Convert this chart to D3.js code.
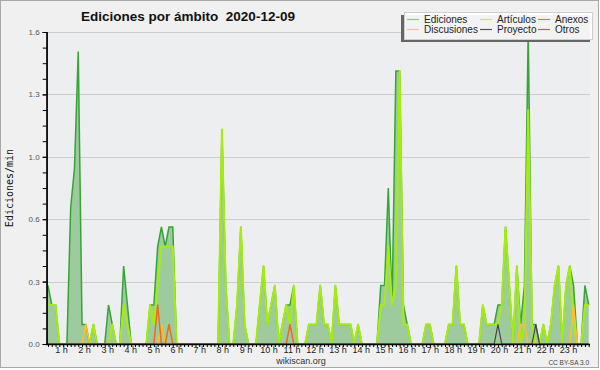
<!DOCTYPE html>
<html><head><meta charset="utf-8">
<script src="https://cdn.jsdelivr.net/npm/d3@7"></script>
<style>
body{margin:0;background:#fff}
svg{font-family:"Liberation Sans",Arial,sans-serif}
</style></head><body>
<svg id="chart" width="600" height="370"></svg>
<script>
// y axis labels (pChart style rounding of 0.32 steps)
var yTicks = [0, 0.32, 0.64, 0.96, 1.28, 1.6];
var yLabels = ["0.0", "0.3", "0.6", "1.0", "1.3", "1.6"];
var hours = d3.range(1, 24);

// edits per minute, one value per 10 minutes (144 per day)
var ediciones = [
  .3,.2,.2,0,0,0,.7,.9,1.5,.1,.1,0,
  .1,0,0,0,.2,.1,0,0,.4,.2,0,0,
  0,0,0,.2,.2,.5,.6,.5,.6,.6,0,0,
  0,0,0,0,0,0,0,0,0,0,1.1,.3,
  0,0,.2,.6,.1,0,0,0,.2,.4,.1,.2,
  .3,0,.1,.2,.2,.3,0,0,0,.1,.1,.1,
  .3,.1,.1,0,.3,.1,.1,.1,.1,0,.1,0,
  0,0,0,0,.3,.3,.8,.2,1.4,1.4,.2,.1,
  0,0,0,0,.1,.1,0,0,0,0,.1,.1,
  .4,.1,.1,0,0,0,0,.2,.1,.1,.1,.2,
  .2,.6,.3,0,.4,.1,.3,1.6,.1,.1,0,.1,
  0,.1,.3,.4,0,.3,.4,.3,0,0,.3,.2
];
var articulos = [
  .2,.2,.2,0,0,0,0,0,0,0,0,0,
  .1,0,0,0,0,.1,0,0,.2,.1,0,0,
  0,0,0,.2,.1,.3,.5,.5,.5,.5,0,0,
  0,0,0,0,0,0,0,0,0,0,1.1,.3,
  0,0,.2,.6,.1,0,0,0,.2,.4,.1,.2,
  .3,0,.1,.2,.1,.3,0,0,0,.1,.1,.1,
  .3,.1,.1,0,.3,.1,.1,.1,.1,0,.1,0,
  0,0,0,0,.2,.2,.5,.2,.3,1.4,.1,.1,
  0,0,0,0,.1,.1,0,0,0,0,.1,.1,
  .4,.1,.1,0,0,0,0,.2,.1,.1,.1,.1,
  .2,.6,.3,0,.4,0,.1,1.2,.1,0,0,.1,
  0,.1,.3,.4,0,.3,.4,.1,0,0,.2,.2
];
var anexos = [
  0,0,0,0,0,0,0,0,0,0,0,0,
  0,0,0,0,0,0,0,0,0,0,0,0,
  0,0,0,0,0,.2,0,0,.1,0,0,0,
  0,0,0,0,0,0,0,0,0,0,0,0,
  0,0,0,0,0,0,0,0,0,0,0,0,
  0,0,0,0,.1,0,0,0,0,0,0,0,
  0,0,0,0,0,0,0,0,0,0,0,0,
  0,0,0,0,0,0,0,0,0,0,0,0,
  0,0,0,0,0,0,0,0,0,0,0,0,
  0,0,0,0,0,0,0,0,0,0,0,0,
  0,0,0,0,0,0,0,0,0,0,0,0,
  0,0,0,0,0,0,0,0,0,0,0,0
];
var discusiones = [
  0,0,0,0,0,0,0,0,0,0,.1,0,
  0,0,0,0,0,0,0,0,0,0,0,0,
  0,0,0,0,0,0,.1,0,0,0,0,0,
  0,0,0,0,0,0,0,0,0,0,0,0,
  0,0,0,0,0,0,0,0,0,0,0,0,
  0,0,0,0,0,0,0,0,0,0,0,0,
  0,0,0,0,0,0,0,0,0,0,0,0,
  0,0,0,0,0,0,0,0,0,0,0,0,
  0,0,0,0,0,0,0,0,0,0,0,0,
  0,0,0,0,0,0,0,0,0,0,0,0,
  0,0,0,0,0,.1,.1,0,0,0,0,0,
  0,0,0,0,0,0,0,.2,0,0,0,0
];
var proyecto = [
  0,0,0,0,0,0,0,0,0,0,0,0,
  0,0,0,0,0,0,0,0,0,0,0,0,
  0,0,0,0,0,0,0,0,0,0,0,0,
  0,0,0,0,0,0,0,0,0,0,0,0,
  0,0,0,0,0,0,0,0,0,0,0,0,
  0,0,0,0,0,0,0,0,0,0,0,0,
  0,0,0,0,0,0,0,0,0,0,0,0,
  0,0,0,0,0,0,0,0,0,0,0,0,
  0,0,0,0,0,0,0,0,0,0,0,0,
  0,0,0,0,0,0,0,0,0,0,0,.1,
  0,0,0,0,0,0,0,0,0,.1,0,0,
  0,0,0,0,0,0,0,0,0,0,0,0
];

var legendNames = ["Ediciones", "Discusiones", "Artículos", "Proyecto", "Anexos", "Otros"];
var legendColors = ["#7fd07f", "#ffcc44", "#c8f040", "#555555", "#f07040", "#9955ee"];

var svg = d3.select("#chart");

// background + frame
svg.append("rect").attr("x", 0.5).attr("y", 0.5).attr("width", 598).attr("height", 367)
  .attr("fill", "#f0f0f0").attr("stroke", "#a8a8a8");

var pLeft = 46.7, pRight = 590, pTop = 32, pBottom = 344;
svg.append("rect").attr("x", pLeft).attr("y", pTop).attr("width", pRight - pLeft).attr("height", pBottom - pTop)
  .attr("fill", "#eceef0");

var x = d3.scaleLinear().domain([0, 143]).range([48, 588.7]);
var y = d3.scaleLinear().domain([0, 1.6]).range([pBottom, pTop]);
// hour labels are spread a little wider than the ticks
var xLab = d3.scaleLinear().domain([0, 24]).range([38.5, 591.6]);

// grid
svg.append("g").selectAll("line").data(yTicks.slice(1)).enter().append("line")
  .attr("x1", pLeft).attr("x2", pRight)
  .attr("y1", function(d){ return Math.round(y(d)) + 0.5; })
  .attr("y2", function(d){ return Math.round(y(d)) + 0.5; })
  .attr("stroke", "#cccccc");

// ediciones area
var area = d3.area().x(function(d, i){ return x(i); }).y0(y(0)).y1(function(d){ return y(d); });
var line = d3.line().x(function(d, i){ return x(i); }).y(function(d){ return y(d); });

svg.append("path").datum(ediciones).attr("d", area).attr("fill", "#9ecb9e");
svg.append("path").datum(ediciones).attr("d", line).attr("fill", "none")
  .attr("stroke", "#35a535").attr("stroke-width", 1.5);

// other series
var series = [
  {data: articulos, color: "#a6ec10", w: 2},
  {data: discusiones, color: "#ffc020", w: 1.5},
  {data: anexos, color: "#ee6a22", w: 1.5},
  {data: proyecto, color: "#444444", w: 1.2}
];
series.forEach(function(s){
  svg.append("path").datum(s.data).attr("d", line).attr("fill", "none")
    .attr("stroke", s.color).attr("stroke-width", s.w).attr("stroke-linejoin", "round");
});

// y axis
var yMinor = d3.range(0, 21).map(function(k){ return k * 0.08; });
svg.append("g").attr("transform", "translate(" + pLeft + ",0)")
  .call(d3.axisLeft(y).tickValues(yMinor).tickSize(4).tickFormat(""))
  .call(function(g){ g.selectAll("line,path").attr("stroke", "#000"); });
var yAx = svg.append("g").attr("transform", "translate(" + pLeft + ",0)")
  .call(d3.axisLeft(y).tickValues(yTicks).tickSize(4).tickPadding(3)
    .tickFormat(function(d, i){ return yLabels[i]; }));
yAx.select(".domain").remove();
yAx.selectAll("line").attr("stroke", "#000");
yAx.selectAll("text").style("font-family", "'Liberation Sans'").style("font-size", "8px").attr("fill", "#555");

// x axis: one tick every 10 minutes
var xAx = svg.append("g").attr("transform", "translate(0," + pBottom + ")")
  .call(d3.axisBottom(x).tickValues(d3.range(0, 144)).tickSize(3).tickFormat(""));
xAx.select(".domain").remove();
xAx.selectAll("line").attr("stroke", "#000");
svg.append("line").attr("x1", pLeft - 1).attr("x2", pRight).attr("y1", pBottom + 0.5).attr("y2", pBottom + 0.5)
  .attr("stroke", "#000").attr("stroke-width", 1.5);
svg.append("line").attr("x1", pLeft + 0.3).attr("x2", pLeft + 0.3).attr("y1", pTop).attr("y2", pBottom + 1)
  .attr("stroke", "#000").attr("stroke-width", 1.5);

svg.append("g").selectAll("text").data(hours).enter().append("text")
  .attr("x", function(d){ return xLab(d); }).attr("y", 353)
  .attr("text-anchor", "middle").attr("font-size", 9).attr("fill", "#222")
  .text(function(d){ return d + " h"; });

// title
svg.append("text").attr("x", 188).attr("y", 21).attr("text-anchor", "middle")
  .attr("font-size", 13.5).attr("font-weight", "bold").attr("fill", "#111")
  .style("white-space", "pre").text("Ediciones por ámbito  2020-12-09");

// y title
svg.append("text").attr("transform", "translate(13,188) rotate(-90)")
  .attr("text-anchor", "middle").style("font-family", "'DejaVu Sans Mono', monospace")
  .style("font-size", "10px").attr("fill", "#111").text("Ediciones/min");

// footer
svg.append("text").attr("x", 301).attr("y", 364).attr("text-anchor", "middle")
  .attr("font-size", 9).attr("fill", "#333").text("wikiscan.org");
svg.append("text").attr("x", 589).attr("y", 365).attr("text-anchor", "end")
  .attr("font-size", 6.5).attr("fill", "#444").text("CC BY-SA 3.0");

// legend
var lg = svg.append("g");
lg.append("rect").attr("x", 401).attr("y", 15).attr("width", 189).attr("height", 27).attr("fill", "#666");
lg.append("rect").attr("x", 404.5).attr("y", 12.5).attr("width", 188).attr("height", 27)
  .attr("fill", "#fff").attr("fill-opacity", 0.92).attr("stroke", "#cfcfcf");
var colX = [407, 480, 538];
var item = lg.selectAll("g.it").data(legendNames).enter().append("g")
  .attr("transform", function(d, i){
    return "translate(" + colX[Math.floor(i / 2)] + "," + (i % 2 === 0 ? 19.5 : 29.5) + ")";
  });
item.append("line").attr("x1", 0).attr("x2", 12).attr("y1", 0).attr("y2", 0)
  .attr("stroke", function(d, i){ return legendColors[i]; }).attr("stroke-width", 1.2);
item.append("text").attr("x", 17).attr("y", 3.5).attr("font-size", 10).attr("fill", "#222")
  .text(function(d){ return d; });
</script>
</body></html>
